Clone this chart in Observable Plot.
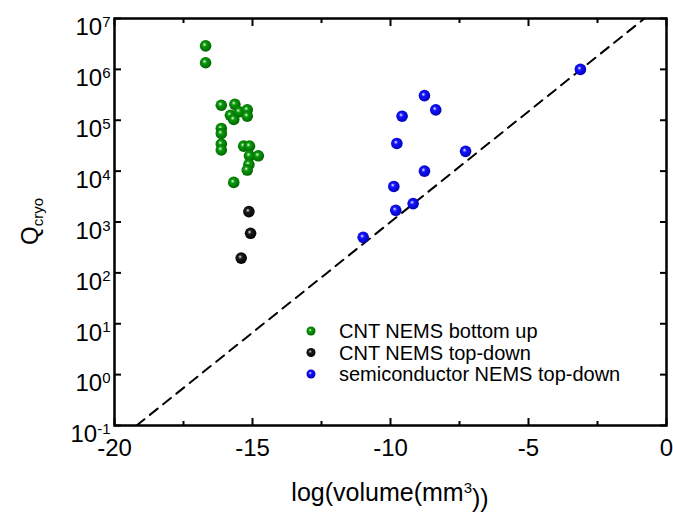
<!DOCTYPE html>
<html><head><meta charset="utf-8">
<script src="https://cdn.jsdelivr.net/npm/d3@7"></script>
<script src="https://cdn.jsdelivr.net/npm/@observablehq/plot@0.6"></script>
<style>
body{margin:0;background:#fff;font-family:"Liberation Sans",Arial,sans-serif;}
#wrap{position:relative;width:673px;height:512px;}
</style></head><body><div id="wrap"></div>
<script>
// ---- data ----
const greenX = [-16.70,-16.70,-16.13,-15.64,-15.80,-15.68,-15.48,-15.19,-15.19,-16.13,-16.13,-16.13,-16.13,-15.32,-15.11,-15.11,-14.79,-15.13,-15.19,-15.68];
const greenQ = [2.9e6,1.35e6,1.97e5,2.06e5,1.25e5,1.04e5,1.47e5,1.6e5,1.2e5,6.9e4,5.5e4,3.4e4,2.6e4,3.1e4,3.1e4,2.0e4,2.0e4,1.35e4,1.05e4,6.0e3];
const blackX = [-15.13,-15.07,-15.41];
const blackQ = [1.6e3,600,195];
const blueX = [-8.77,-8.36,-9.58,-9.77,-7.28,-8.77,-9.88,-9.18,-9.81,-10.99,-3.12];
const blueQ = [3.05e5,1.6e5,1.2e5,3.5e4,2.45e4,1.0e4,5.0e3,2.3e3,1.7e3,500,1.0e6];
const lineX = [-19.2,-0.8];
const lineQ = [0.1,1e7];
const xMajor = [-20,-15,-10,-5,0];
const xMinor = [-17.5,-12.5,-7.5,-2.5];
const yTicks = [1e-1,1e0,1e1,1e2,1e3,1e4,1e5,1e6,1e7];
const seriesNames = ["CNT NEMS bottom up","CNT NEMS top-down","semiconductor NEMS top-down"];
const seriesGrad = ["gGreen","gBlack","gBlue"];

(function () {
const zip = (xs, qs) => xs.map((x, i) => ({x, q: qs[i]}));
const green = zip(greenX, greenQ), black = zip(blackX, blackQ), blue = zip(blueX, blueQ), line = zip(lineX, lineQ);
const FONT = '"Liberation Sans", Arial, sans-serif';

const plot = Plot.plot({
  width: 673, height: 512,
  marginLeft: 114, marginRight: 7, marginTop: 18, marginBottom: 87,
  style: {fontFamily: FONT, fontSize: "24px", color: "#000", background: "#fff", overflow: "visible"},
  x: {domain: [-20, 0]},
  y: {type: "log", domain: [0.1, 1e7]},
  marks: [
    Plot.line(line, {x: "x", y: "q", stroke: "#000", strokeWidth: 2, strokeDasharray: "10,7", clip: true}),
    Plot.dot(green, {x: "x", y: "q", r: 5.8, fill: "url(#gGreen)"}),
    Plot.dot(black, {x: "x", y: "q", r: 5.8, fill: "url(#gBlack)"}),
    Plot.dot(blue, {x: "x", y: "q", r: 5.8, fill: "url(#gBlue)"}),
    Plot.axisX({anchor: "bottom", ticks: xMajor, tickSize: 0, tickPadding: 13, tickFormat: d => String(d), fontSize: 24, label: null}),
    Plot.axisX({anchor: "bottom", ticks: xMajor, tickSize: -7, strokeWidth: 2, tickFormat: () => "", label: null}),
    Plot.axisX({anchor: "bottom", ticks: xMinor, tickSize: -4, strokeWidth: 2, tickFormat: () => "", label: null}),
    Plot.axisX({anchor: "top", ticks: xMajor, tickSize: -7, strokeWidth: 2, tickFormat: () => "", label: null}),
    Plot.axisX({anchor: "top", ticks: xMinor, tickSize: -4, strokeWidth: 2, tickFormat: () => "", label: null}),
    Plot.axisY({anchor: "left", ticks: yTicks, tickSize: 0, tickPadding: 4, tickFormat: d => "10|" + Math.round(Math.log10(d)), fontSize: 24, label: null}),
    Plot.axisY({anchor: "left", ticks: yTicks, tickSize: -7, strokeWidth: 2, tickFormat: () => "", label: null}),
    Plot.axisY({anchor: "right", ticks: yTicks, tickSize: -7, strokeWidth: 2, tickFormat: () => "", label: null}),
    Plot.frame({stroke: "#000", strokeWidth: 2.5})
  ]
});

const svg = d3.select(plot);
// sphere gradients
const defs = svg.insert("defs", ":first-child");
const grads = [["gGreen", "#e8f8e8", "#0a9a0a", "#006000"], ["gBlack", "#e0e0e0", "#1a1a1a", "#000"], ["gBlue", "#f0f0ff", "#1414ff", "#0000b0"]];
for (const [id, hi, mid, edge] of grads) {
  const g = defs.append("radialGradient").attr("id", id).attr("cx", "45%").attr("cy", "45%").attr("r", "60%").attr("fx", "40%").attr("fy", "38%");
  g.append("stop").attr("offset", "0%").attr("stop-color", hi);
  g.append("stop").attr("offset", "30%").attr("stop-color", mid);
  g.append("stop").attr("offset", "100%").attr("stop-color", edge);
}

// superscript y tick labels
svg.selectAll('g[aria-label="y-axis tick label"] text').each(function () {
  const t = d3.select(this);
  const s = t.text();
  if (!s.includes("|")) return;
  const [base, exp] = s.split("|");
  t.text(null).attr("dy", "0.38em");
  t.append("tspan").text(base);
  t.append("tspan").attr("dy", "-0.55em").attr("font-size", "15px").text(exp);
});

const xs = plot.scale("x"), ys = plot.scale("y");
const pLeft = xs.range[0], pRight = xs.range[1], pTop = ys.range[1], pBottom = ys.range[0];

// x title
const xt = svg.append("text").attr("x", (pLeft + pRight) / 2).attr("y", 501).attr("text-anchor", "middle")
  .attr("font-family", FONT).attr("font-size", 25);
xt.append("tspan").text("log(volume(mm");
xt.append("tspan").attr("dy", "-0.55em").attr("font-size", "15px").text("3");
xt.append("tspan").attr("dy", "0.55em").text("))");

// y title
const yt = svg.append("text").attr("transform", `translate(38,${(pTop + pBottom) / 2}) rotate(-90)`).attr("text-anchor", "middle")
  .attr("font-family", FONT).attr("font-size", 24);
yt.append("tspan").text("Q");
yt.append("tspan").attr("dy", "0.3em").attr("font-size", "15px").text("cryo");

// legend
const lg = svg.append("g").attr("font-family", FONT).attr("font-size", 20).attr("text-anchor", "start");
seriesNames.forEach((name, i) => {
  const cy = 331 + i * 21.5;
  lg.append("circle").attr("cx", 311).attr("cy", cy).attr("r", 4.5).attr("fill", `url(#${seriesGrad[i]})`);
  lg.append("text").attr("x", 339).attr("y", cy).attr("dy", "0.35em").attr("text-anchor", "start").text(name);
});

document.getElementById("wrap").appendChild(plot);
})();
</script></body></html>
